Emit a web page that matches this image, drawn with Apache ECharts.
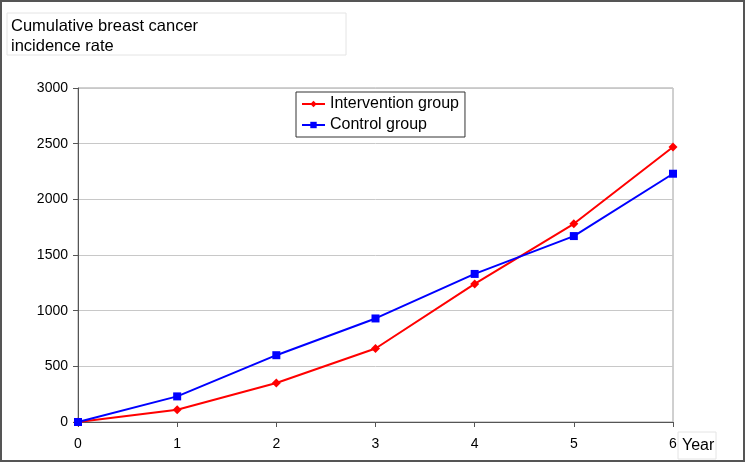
<!DOCTYPE html>
<html><head><meta charset="utf-8">
<script src="https://cdn.jsdelivr.net/npm/echarts@6/dist/echarts.min.js"></script>
<style>html,body{margin:0;padding:0;background:#fff}#c{width:745px;height:462px}</style>
</head><body><div id="c"></div>
<script>
const years = ['0','1','2','3','4','5','6'];
const intervention = [0, 110, 350, 660, 1240, 1780, 2470];
const control = [0, 230, 600, 930, 1330, 1670, 2230];
const yTicks = [0, 500, 1000, 1500, 2000, 2500, 3000];
const titleLines = ['Cumulative breast cancer', 'incidence rate'];
const xName = 'Year';

const chart = echarts.init(document.getElementById('c'), null, {renderer:'canvas'});
const font = 'Liberation Sans, Arial, sans-serif';
chart.setOption({
  animation:false,
  textStyle:{fontFamily:font},
  grid:{left:78, right:72, top:88, bottom:40, show:true, borderColor:'#a0a0a0', borderWidth:1, containLabel:false},
  legend:{
    orient:'vertical', left:296, top:92, width:160,
    borderColor:'#333', borderWidth:1, padding:[4,6,4,5], itemGap:5,
    itemWidth:23, itemHeight:8,
    textStyle:{fontSize:16, color:'#000', fontFamily:font},
    data:['Intervention group','Control group']
  },
  xAxis:{
    type:'category', data:years, boundaryGap:false,
    axisLine:{lineStyle:{color:'#555', width:1}},
    axisTick:{show:true, alignWithLabel:true, length:5, lineStyle:{color:'#555'}},
    axisLabel:{fontSize:14, color:'#000', margin:15, fontFamily:font},
    splitLine:{show:false}
  },
  yAxis:{
    type:'value', min:0, max:3000, interval:500,
    axisLine:{show:true, lineStyle:{color:'#555', width:1}},
    axisTick:{show:true, length:5, lineStyle:{color:'#555'}},
    axisLabel:{fontSize:14, color:'#000', margin:10, fontFamily:font,
      formatter:v=>yTicks.includes(v)?String(v):''},
    splitLine:{show:true, lineStyle:{color:'#c8c8c8', width:1}}
  },
  graphic:[
    {type:'rect', shape:{x:1, y:1, width:743, height:460}, style:{fill:'none', stroke:'#555', lineWidth:2}, z:100},
    {type:'rect', shape:{x:7, y:13, width:339, height:42}, style:{fill:'#fff', stroke:'#e4e4e4', lineWidth:1}, z:10},
    {type:'text', left:11, top:16, z:11, style:{text:titleLines.join('\n'), font:'16.5px '+font, fill:'#000', lineHeight:20}},
    {type:'rect', shape:{x:678, y:432, width:38, height:27}, style:{fill:'#fff', stroke:'#e4e4e4', lineWidth:1}, z:10},
    {type:'text', left:682, top:438, z:11, style:{text:xName, font:'16px '+font, fill:'#000'}}
  ],
  series:[
    {name:'Intervention group', type:'line', data:intervention, symbol:'diamond', symbolSize:9,
      lineStyle:{color:'#ff0000', width:2}, itemStyle:{color:'#ff0000'}},
    {name:'Control group', type:'line', data:control, symbol:'rect', symbolSize:8,
      lineStyle:{color:'#0000ff', width:2}, itemStyle:{color:'#0000ff'}}
  ]
});
</script></body></html>
